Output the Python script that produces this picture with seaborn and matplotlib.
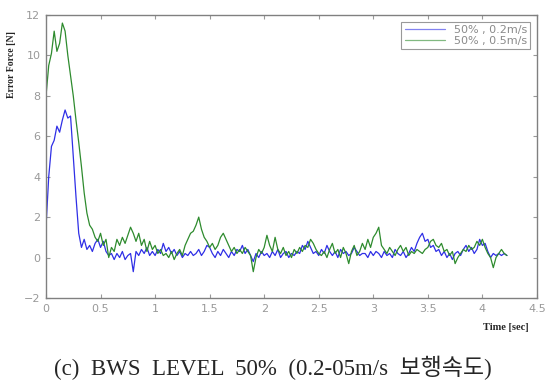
import numpy as np
import pandas as pd
import matplotlib
matplotlib.use("Agg")
import matplotlib.pyplot as plt
import seaborn as sns

# sampled error force [N], one value every 0.025 s from 0 to 4.225 s
blue_02 = [
    1.5, 4.0, 5.5, 5.8, 6.5, 6.2, 6.8, 7.3, 6.9, 7.0,
    5.0, 3.0, 1.2, 0.5, 0.9, 0.4, 0.6, 0.3, 0.7, 0.9,
    0.5, 0.8, 0.3, 0.1, 0.2, -0.1, 0.2, 0.0, 0.3, -0.1,
    0.1, 0.2, -0.7, 0.3, 0.1, 0.4, 0.2, 0.5, 0.1, 0.3,
    0.1, 0.4, 0.2, 0.7, 0.3, 0.5, 0.2, 0.4, 0.1, 0.3,
    0.0, 0.2, 0.1, 0.3, 0.1, 0.2, 0.4, 0.1, 0.3, 0.6,
    0.5, 0.2, 0.0, 0.3, 0.1, 0.4, 0.2, 0.0, 0.3, 0.1,
    0.4, 0.3, 0.6, 0.2, 0.4, 0.1, -0.2, 0.2, 0.0, 0.3,
    0.1, 0.2, 0.0, 0.3, 0.1, 0.4, 0.0, 0.2, 0.3, 0.0,
    0.2, 0.1, 0.3, 0.2, 0.6, 0.4, 0.8, 0.5, 0.2, 0.3,
    0.1, 0.4, 0.2, 0.6, 0.3, 0.1, 0.3, 0.0, 0.4, 0.2,
    0.3, 0.1, 0.2, 0.5, 0.3, 0.1, 0.2, 0.2, 0.0, 0.3,
    0.1, 0.3, 0.2, 0.0, 0.3, 0.1, 0.2, 0.0, 0.4, 0.2,
    0.1, 0.3, 0.0, 0.2, 0.5, 0.3, 0.7, 1.0, 1.2, 0.8,
    0.9, 0.5, 0.6, 0.3, 0.4, 0.1, 0.3, 0.0, 0.2, -0.1,
    0.2, 0.3, 0.1, 0.4, 0.6, 0.3, 0.5, 0.2, 0.4, 0.9,
    0.6, 0.7, 0.3, 0.0, 0.2, 0.1, 0.2, 0.1, 0.2, 0.1,
]
green_05 = [
    8.0, 9.5, 10.1, 11.2, 10.2, 10.6, 11.6, 11.2, 10.0, 9.0,
    8.0, 6.8, 5.7, 4.5, 3.2, 2.2, 1.6, 1.4, 1.0, 0.8,
    1.2, 0.6, 0.9, 0.0, 0.5, 0.3, 0.9, 0.6, 1.0, 0.7,
    1.1, 1.5, 1.2, 0.8, 1.2, 0.6, 0.9, 0.3, 0.8, 0.4,
    0.6, 0.2, 0.4, 0.1, 0.2, 0.0, 0.3, -0.1, 0.2, 0.4,
    0.1, 0.6, 0.9, 1.2, 1.3, 1.6, 2.0, 1.4, 1.0, 0.8,
    0.5, 0.7, 0.4, 0.6, 1.0, 1.2, 0.9, 0.6, 0.3, 0.5,
    0.2, 0.4, 0.2, 0.5, 0.3, 0.1, -0.7, 0.0, 0.4, 0.2,
    0.5, 1.1, 0.6, 0.3, 1.0, 0.4, 0.2, 0.5, 0.1, 0.3,
    0.0, 0.4, 0.2, 0.5, 0.3, 0.6, 0.5, 0.9, 0.7, 0.4,
    0.2, 0.1, 0.3, 0.0, 0.4, 0.7, 0.2, 0.4, 0.0, 0.5,
    0.2, -0.3, 0.3, 0.6, 0.1, 0.3, 0.7, 0.4, 0.9, 0.5,
    1.0, 1.2, 1.5, 0.6, 0.4, 0.2, 0.5, 0.3, 0.1, 0.4,
    0.6, 0.3, 0.5, 0.1, 0.3, 0.2, 0.4, 0.3, 0.2, 0.4,
    0.5, 0.8, 0.9, 0.6, 0.5, 0.7, 0.3, 0.4, 0.1, 0.3,
    -0.3, 0.0, 0.2, 0.4, 0.3, 0.6, 0.4, 0.5, 0.8, 0.6,
    0.9, 0.5, 0.2, 0.0, -0.5, 0.0, 0.2, 0.4, 0.2, 0.1,
]
time_sec = np.linspace(0, 4.225, len(blue_02))
labels = ["50% , 0.2m/s", "50% , 0.5m/s"]
xticks = [0, 0.5, 1, 1.5, 2, 2.5, 3, 3.5, 4, 4.5]
yticks = [-2, 0, 2, 4, 6, 8, 10, 12]

df = pd.DataFrame({"time": time_sec, "v02": blue_02, "v05": green_05})

sns.set_style("white")
plt.rcParams["font.family"] = ["DejaVu Sans"]

fig = plt.figure(figsize=(5.45, 3.9), dpi=100)
ax = fig.add_axes([0.0844, 0.236, 0.9008, 0.7256])

sns.lineplot(data=df, x="time", y="v02", ax=ax, color="#2f2fe6", lw=0.9, label=labels[0])
sns.lineplot(data=df, x="time", y="v05", ax=ax, color="#2e8b2e", lw=0.9, label=labels[1])

ax.set_xlim(0, 4.5)
ax.set_ylim(-2, 12)
ax.set_xticks(xticks)
ax.set_yticks(yticks)
ax.set_xticklabels([f"{v:g}" for v in xticks])
ax.tick_params(direction="in", length=3, labelsize=8, colors="#999999",
               top=True, right=True, bottom=True, left=True, pad=4)
for s in ax.spines.values():
    s.set_color("#808080")
    s.set_linewidth(1.0)
ax.set_xlabel("")
ax.set_ylabel("")

leg = ax.legend(loc="upper right", frameon=True, fancybox=False, fontsize=8,
                handlelength=3.6, borderpad=0.3, labelspacing=0.05,
                borderaxespad=0.6)
leg.get_frame().set_edgecolor("#808080")
leg.get_frame().set_linewidth(0.8)
for txt in leg.get_texts():
    txt.set_color("#8a8a8a")
for h in leg.get_lines():
    h.set_alpha(0.6)

serif = ["Liberation Serif", "Noto Sans CJK KR"]
fig.text(0.022, 0.835, "Error Force [N]", rotation=90, ha="center", va="center",
         fontsize=7, fontweight="bold", family=serif)
fig.text(0.928, 0.16, "Time [sec]", ha="center", va="center",
         fontsize=7.5, fontweight="bold", family=serif)
fig.text(0.5, 0.058, "(c)  BWS  LEVEL  50%  (0.2-05m/s  보행속도)", ha="center",
         va="center", fontsize=16.5, family=serif)

fig.savefig("out.png", dpi=100)
